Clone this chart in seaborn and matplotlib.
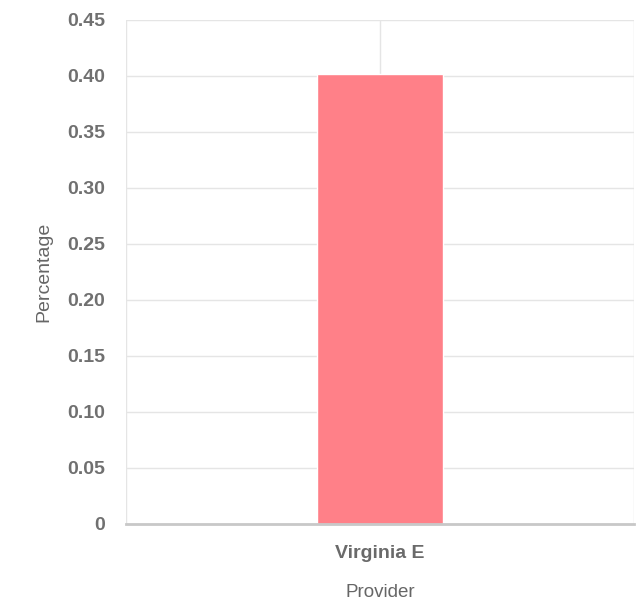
import matplotlib
matplotlib.use("Agg")
import matplotlib.pyplot as plt
import seaborn as sns
import pandas as pd

providers = ["Virginia E"]
percentages = [0.402]
y_ticks = [0, 0.05, 0.10, 0.15, 0.20, 0.25, 0.30, 0.35, 0.40, 0.45]
y_tick_labels = ["0", "0.05", "0.10", "0.15", "0.20", "0.25", "0.30", "0.35", "0.40", "0.45"]

sns.set_theme(style="white")
plt.rcParams['font.family'] = ['Liberation Sans', 'DejaVu Sans']

df = pd.DataFrame({"Provider": providers, "Percentage": percentages})

fig = plt.figure(figsize=(6.38, 6.02), dpi=100)
ax = fig.add_axes([126 / 638, 1 - 524 / 602, 508 / 638, 504 / 602])

sns.barplot(data=df, x="Provider", y="Percentage", color="#ff8088",
            saturation=1, width=0.248, ax=ax, zorder=3)

ax.set_xlim(-0.5, 0.5)
ax.set_ylim(0, 0.45)
ax.set_yticks(y_ticks)
ax.set_yticklabels(y_tick_labels)

grid_col = "#e5e5e5"
ax.grid(axis="y", color=grid_col, linewidth=1, zorder=0)
for xv in [-0.5, 0, 0.5]:
    ax.axvline(xv, color=grid_col, linewidth=1, zorder=0)

for s in ["top", "right", "left"]:
    ax.spines[s].set_visible(False)
ax.spines["bottom"].set_color("#c8c8c8")
ax.spines["bottom"].set_linewidth(2)
ax.spines["bottom"].set_zorder(4)

ax.tick_params(axis="y", length=13, width=1, color=grid_col, pad=2,
               labelsize=14, labelcolor="#707070")
ax.tick_params(axis="x", length=0, pad=15, labelsize=14, labelcolor="#6a6a6a")
for lab in ax.get_xticklabels() + ax.get_yticklabels():
    lab.set_fontweight("bold")

ax.set_xlabel("Provider", fontsize=13.5, color="#666666", labelpad=16)
ax.set_ylabel("Percentage", fontsize=14, color="#666666", labelpad=11)

fig.savefig("out.png", dpi=100)
